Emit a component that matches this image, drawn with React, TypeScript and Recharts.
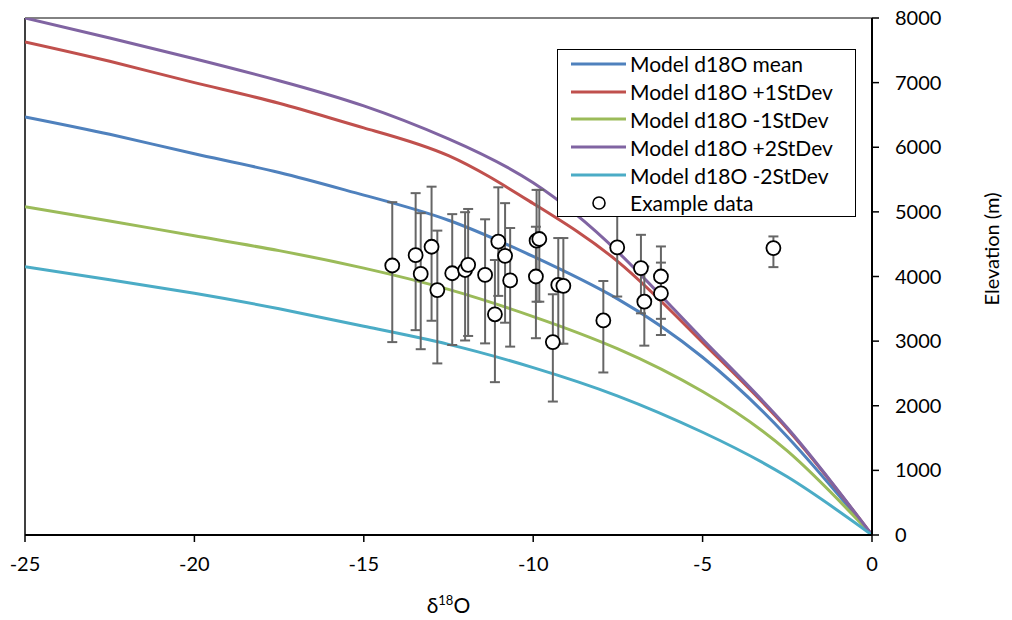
import React from 'react';
import { ComposedChart, Line, Scatter, ErrorBar, XAxis, YAxis, ReferenceLine, Legend, Label } from 'recharts';

const FONT = 'Lato, "Open Sans", sans-serif';

// model curves, sampled along d18O
const deltaGrid = [-25, -22.5, -20, -17.5, -15, -12.5, -10, -7.5, -5, -2.5, 0];
const meanElev = [6470, 6200, 5900, 5610, 5260, 4870, 4310, 3650, 2750, 1520, 0];
const plus1Elev = [7630, 7330, 7000, 6680, 6300, 5870, 5130, 4230, 2980, 1640, 0];
const minus1Elev = [5080, 4860, 4630, 4400, 4130, 3800, 3380, 2880, 2220, 1300, 0];
const plus2Elev = [8000, 7690, 7370, 7030, 6640, 6130, 5450, 4380, 3030, 1660, 0];
const minus2Elev = [4150, 3950, 3740, 3500, 3230, 2950, 2590, 2150, 1590, 900, 0];

// example samples with error bars
const sampleDelta = [-14.16, -13.47, -13.32, -13.0, -12.83, -12.39, -12.01, -11.92, -11.42, -11.03, -10.83, -10.68, -11.13,
  -9.9, -9.82, -9.92, -9.26, -9.11, -9.42, -7.52, -7.93, -6.82, -6.72, -6.23, -6.23, -2.91];
const sampleElev = [4170, 4330, 4040, 4460, 3790, 4050, 4100, 4180, 4025, 4540, 4320, 3940, 3415,
  4555, 4580, 4000, 3870, 3855, 2985, 4450, 3320, 4130, 3610, 4000, 3740, 4440];
const sampleErrLow = [1185, 1160, 1165, 1145, 1135, 1110, 1090, 1100, 1060, 840, 1035, 1025, 1050,
  945, 970, 955, 910, 895, 920, 760, 805, 700, 680, 655, 645, 295];
const sampleErrHigh = [980, 960, 940, 930, 920, 915, 895, 865, 860, 840, 815, 810, 840,
  785, 760, 770, 725, 740, 740, 760, 610, 515, 545, 465, 475, 180];

const xTicks = [-25, -20, -15, -10, -5, 0];
const yTicks = [0, 1000, 2000, 3000, 4000, 5000, 6000, 7000, 8000];

const SERIES = [
  { key: 'mean', name: 'Model d18O mean', color: '#4F81BD', values: meanElev },
  { key: 'p1', name: 'Model d18O +1StDev', color: '#C0504D', values: plus1Elev },
  { key: 'm1', name: 'Model d18O -1StDev', color: '#9BBB59', values: minus1Elev },
  { key: 'p2', name: 'Model d18O +2StDev', color: '#8064A2', values: plus2Elev },
  { key: 'm2', name: 'Model d18O -2StDev', color: '#4BACC6', values: minus2Elev },
];

const samples = sampleDelta.map((x, i) => ({
  x,
  y: sampleElev[i],
  err: [sampleErrLow[i], sampleErrHigh[i]],
}));

const renderLegend = () => (
  <div
    style={{
      width: 299,
      height: 168,
      boxSizing: 'border-box',
      border: '1.5px solid #000',
      background: '#fff',
      fontFamily: FONT,
      fontSize: 21,
      color: '#000',
      lineHeight: 1,
    }}
  >
    {SERIES.map((s) => (
      <div key={s.key} style={{ display: 'flex', alignItems: 'center', height: 27.8 }}>
        <svg width={68} height={10}>
          <line x1={13} x2={68} y1={5} y2={5} stroke={s.color} strokeWidth={3} />
        </svg>
        <span style={{ marginLeft: 4, whiteSpace: 'nowrap' }}>{s.name}</span>
      </div>
    ))}
    <div style={{ display: 'flex', alignItems: 'center', height: 27.8 }}>
      <svg width={68} height={16}>
        <circle cx={41} cy={8} r={6} fill="#fff" stroke="#000" strokeWidth={1.6} />
      </svg>
      <span style={{ marginLeft: 4, whiteSpace: 'nowrap' }}>Example data</span>
    </div>
  </div>
);

export default function App() {
  return (
    <div style={{ position: 'absolute', left: 0, top: 0, width: 1012, height: 620, background: '#fff' }}>
      <ComposedChart width={1012} height={620} margin={{ top: 18, left: 25, right: 30, bottom: 25 }}>
        <XAxis
          type="number"
          dataKey="x"
          domain={[-25, 0]}
          ticks={xTicks}
          interval={0}
          allowDataOverflow
          tickSize={7}
          tickMargin={15}
          height={60}
          axisLine={{ stroke: '#000', strokeWidth: 2 }}
          tickLine={{ stroke: '#000', strokeWidth: 1.5 }}
          tick={{ fill: '#000', fontSize: 20, fontFamily: FONT }}
        >
          <Label
            content={({ viewBox }: any) => (
              <text
                x={viewBox.x + viewBox.width / 2}
                y={viewBox.y + 78}
                textAnchor="middle"
                fontFamily={FONT}
                fontSize={21}
                fill="#000"
              >
                <tspan>δ</tspan>
                <tspan fontSize={13} dy={-8}>18</tspan>
                <tspan dy={8}>O</tspan>
              </text>
            )}
          />
        </XAxis>
        <YAxis
          type="number"
          dataKey="y"
          orientation="right"
          domain={[0, 8000]}
          ticks={yTicks}
          interval={0}
          allowDataOverflow
          width={110}
          tickSize={7}
          tickMargin={16}
          axisLine={{ stroke: '#000', strokeWidth: 2 }}
          tickLine={{ stroke: '#000', strokeWidth: 1.5 }}
          tick={{ fill: '#000', fontSize: 20, fontFamily: FONT }}
        >
          <Label
            content={({ viewBox }: any) => {
              const lx = viewBox.x + 127;
              const ly = 249;
              return (
                <text
                  x={lx}
                  y={ly}
                  transform={`rotate(-90 ${lx} ${ly})`}
                  textAnchor="middle"
                  fontFamily={FONT}
                  fontSize={20}
                  fill="#000"
                >
                  Elevation (m)
                </text>
              );
            }}
          />
        </YAxis>
        <ReferenceLine x={-25} stroke="#000" strokeWidth={1.5} />
        <ReferenceLine y={8000} stroke="#595959" strokeWidth={1.5} />
        {SERIES.map((s) => (
          <Line
            key={s.key}
            data={deltaGrid.map((x, i) => ({ x, y: s.values[i] }))}
            dataKey="y"
            name={s.name}
            type="natural"
            stroke={s.color}
            strokeWidth={3}
            dot={false}
            activeDot={false}
            isAnimationActive={false}
          />
        ))}
        <Scatter
          data={samples}
          dataKey="y"
          name="Example data"
          isAnimationActive={false}
          shape={(p: any) => <circle cx={p.cx} cy={p.cy} r={7} fill="#fff" stroke="#000" strokeWidth={1.8} />}
        >
          <ErrorBar dataKey="err" direction="y" width={5} stroke="#666" strokeWidth={2} />
        </Scatter>
        <Legend
          layout="vertical"
          align="center"
          verticalAlign="middle"
          content={renderLegend}
          wrapperStyle={{ left: 557, top: 49, width: 299, height: 168 }}
        />
      </ComposedChart>
    </div>
  );
}
